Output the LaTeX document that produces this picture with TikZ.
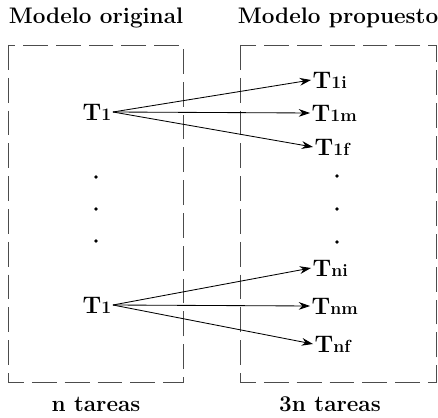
\documentclass[tikz,border=0pt]{standalone}
\usepackage{tikz}
\usetikzlibrary{arrows.meta}

\newcommand{\tsub}[1]{T{\fontsize{12.5}{14}\selectfont #1}}

\begin{document}
\begin{tikzpicture}[
  x=0.025cm, y=-0.025cm,
  box/.style ={draw=black!70,line width=0.7pt,dash pattern=on 0.62cm off 0.2cm},
  title/.style={font=\bfseries\fontsize{16}{18}\selectfont},
  task/.style={font=\bfseries\fontsize{17}{19}\selectfont,inner sep=1pt},
  dotn/.style={circle,fill=black,inner sep=0pt,minimum size=2.8pt},
  arr/.style ={-{Stealth[length=8pt,width=5.5pt]},line width=0.6pt},
]
\useasboundingbox (0,0) rectangle (438,418);

% boxes and captions
\draw[box] (8,45) rectangle (183,382);
\draw[box] (240,45) rectangle (436,382);
\node[title] (orig) at (96,18)  {Modelo original};
\node[title] (prop) at (338,18) {Modelo propuesto};
\node[title] (n)    at (96,404) {n tareas};
\node[title] (n3)   at (330,404){3n tareas};

% original model
\node[task] (t1) at (97,112) {\tsub{1}};
\node[task] (tn) at (97,305) {\tsub{1}};
\node[dotn] (l1) at (96,177) {};
\node[dotn] (l2) at (96,209) {};
\node[dotn] (l3) at (96,241) {};

% proposed model
\node[task,anchor=west] (t1i) at (311,80)  {\tsub{1i}};
\node[task,anchor=west] (t1m) at (310,113) {\tsub{1m}};
\node[task,anchor=west] (t1f) at (313,147) {\tsub{1f}};
\node[dotn] (r1) at (337,176) {};
\node[dotn] (r2) at (337,209) {};
\node[dotn] (r3) at (337,242) {};
\node[task,anchor=west] (tni) at (311,268) {\tsub{ni}};
\node[task,anchor=west] (tnm) at (310,306) {\tsub{nm}};
\node[task,anchor=west] (tnf) at (313,344) {\tsub{nf}};

\draw[arr] (t1.east) -- (t1i.west);
\draw[arr] (t1.east) -- (t1m.west);
\draw[arr] (t1.east) -- (t1f.west);
\draw[arr] (tn.east) -- (tni.west);
\draw[arr] (tn.east) -- (tnm.west);
\draw[arr] (tn.east) -- (tnf.west);
\end{tikzpicture}
\end{document}
